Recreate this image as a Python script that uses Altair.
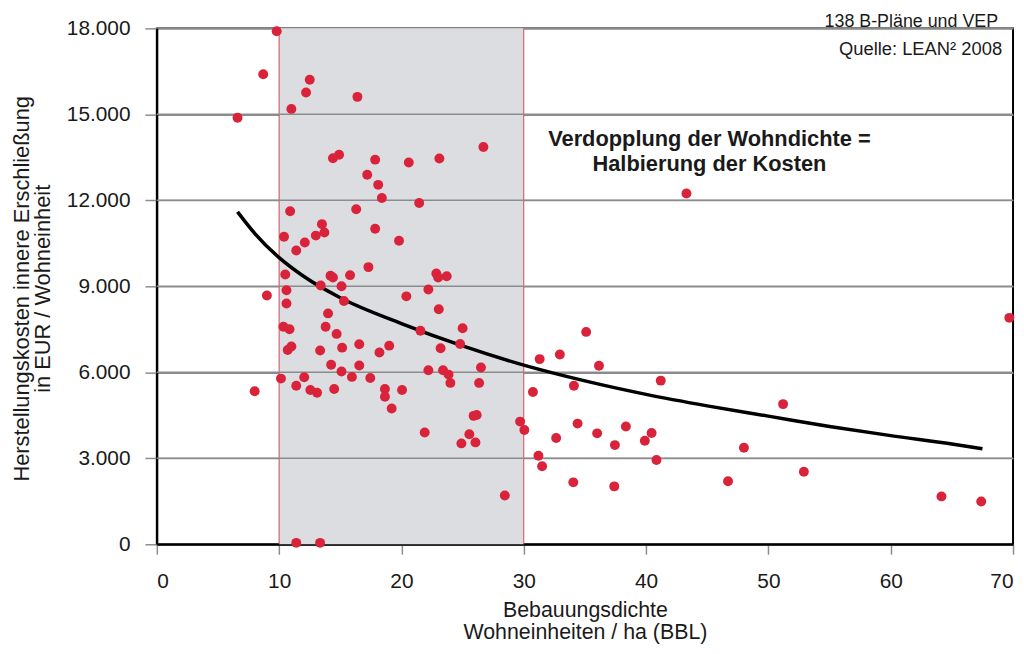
import altair as alt
import pandas as pd

# ---- data ----
density = [6.6, 8.7, 9.8, 8.0, 9.0, 12.5, 12.2, 11.0, 16.4, 14.4, 14.9, 17.85, 20.6, 23.1,
           17.2, 18.1, 18.4, 21.45, 10.9, 16.3, 13.5, 13.0, 13.7, 10.4, 12.1, 11.4, 17.85,
           19.8, 17.3, 10.5, 14.2, 14.4, 15.8, 22.85, 23.0, 23.7, 26.7, 43.3, 10.6, 13.4,
           15.1, 15.3, 10.6, 20.4, 22.2, 23.05, 14.0, 13.8, 10.35, 10.85, 14.7, 21.55, 10.7,
           11.0, 13.35, 15.15, 16.55, 18.2, 19.0, 23.2, 14.25, 16.55, 15.1, 15.95, 17.45,
           22.2, 23.4, 23.85, 24.0, 10.15, 12.05, 11.4, 12.55, 13.1, 14.5, 18.65, 18.65,
           20.05, 19.2, 21.9, 11.4, 13.35, 25.0, 24.8, 26.5, 26.35, 30.75, 31.3, 32.95,
           35.1, 36.15, 34.1, 41.2, 25.9, 26.15, 25.55, 24.9, 26.05, 29.7, 30.05, 34.4,
           32.65, 36.0, 37.45, 38.35, 39.9, 40.45, 31.2, 31.5, 40.85, 34.05, 37.4, 28.45,
           46.7, 69.7, 51.2, 48.0, 52.9, 64.15, 67.4]
cost = [14880, 16400, 17900, 5340, 8680, 16210, 15760, 15190, 15610, 13470, 13590, 13420,
        13320, 13460, 12890, 12540, 12080, 11910, 11620, 11690, 11170, 10770, 10880, 10730,
        10530, 10250, 11010, 10590, 9670, 9415, 9370, 9310, 9390, 9450, 9310, 9350, 13860,
        12240, 8860, 9030, 9000, 8490, 8400, 8650, 8890, 8200, 8055, 7590, 7590, 7500, 7340,
        7450, 6780, 6900, 6760, 6860, 6980, 6690, 6930, 6840, 6265, 6240, 6030, 5840, 5800,
        6070, 6070, 5920, 5630, 5780, 5830, 5530, 5380, 5285, 5420, 5420, 5150, 5380, 4740,
        3900, 50, 50, 7535, 6990, 6170, 5630, 5310, 6460, 6620, 7410, 6230, 5530, 5710,
        4480, 4510, 3840, 3520, 3555, 4280, 3990, 4210, 3710, 3870, 3460, 4110, 3610, 3880,
        3090, 2720, 2940, 2160, 2020, 1700, 2200, 7900, 4890, 3370, 2530, 1670, 1490]

trend_x = [6.6, 8, 10, 12, 15, 20, 25, 30, 35, 40, 45, 50, 55, 60, 65, 67.5]
trend_y = [11600, 10850, 10000, 9350, 8600, 7700, 6920, 6250, 5700, 5230, 4830, 4470,
           4110, 3790, 3500, 3330]

band_start = [10]
band_end = [30]
band_edges = [10, 30]
grid_values = [3000, 6000, 9000, 12000, 15000]
x_ticks = [0, 10, 20, 30, 40, 50, 60, 70]
y_ticks = [0, 3000, 6000, 9000, 12000, 15000, 18000]

y_title = ["Herstellungskosten innere  Erschließung", "in EUR / Wohneinheit"]
x_title = ["Bebauungsdichte", "Wohneinheiten / ha (BBL)"]
top_note = "138 B-Pläne und VEP"
source_note = "Quelle: LEAN² 2008"
annotation = ["Verdopplung der Wohndichte =", "Halbierung der Kosten"]

FONT = "Liberation Sans, Arial, Helvetica, sans-serif"
W, H = 863, 520
GRID = "#8c8c8c"

pts = pd.DataFrame({"x": density, "y": cost})
trend = pd.DataFrame({"x": trend_x, "y": trend_y})
band = pd.DataFrame({"x": band_start, "x2": band_end, "y": [0], "y2": [18000]})
edges = pd.DataFrame({"ex": band_edges, "ey": [0, 0], "ey2": [18000, 18000]})
grid = pd.DataFrame({"gy": grid_values,
                     "gx": [0] * len(grid_values),
                     "gx2": [70] * len(grid_values)})

xscale = alt.Scale(domain=[0, 70], nice=False, zero=False)
yscale = alt.Scale(domain=[0, 18000], nice=False)

xaxis = alt.Axis(values=x_ticks, title=x_title, grid=False, domainColor="black",
                 domainWidth=2, tickColor=GRID, tickWidth=1.5, tickSize=10,
                 labelFont=FONT, labelFontSize=21, labelColor="#1a1a1a", labelPadding=17,
                 labelFlush=True,
                 titleFont=FONT, titleFontSize=21.5, titleFontWeight="normal",
                 titleColor="#1a1a1a", titleY=73, titleBaseline="alphabetic",
                 titleLineHeight=22)
yaxis = alt.Axis(values=y_ticks, title=y_title, grid=True, gridColor=GRID,
                 gridWidth=1.5, domainColor="black",
                 domainWidth=2, tickColor=GRID, tickWidth=1.5, tickSize=12,
                 labelFont=FONT, labelFontSize=21, labelColor="#1a1a1a", labelPadding=15,
                 labelExpr="replace(format(datum.value, ','), ',', '.')",
                 titleFont=FONT, titleFontSize=22, titleFontWeight="normal",
                 titleColor="#1a1a1a", titleAngle=270, titleX=-129, titleY=262,
                 titleAlign="center", titleBaseline="alphabetic", titleLineHeight=21)

band_layer = alt.Chart(band).mark_rect(color="#dcdde1").encode(
    x=alt.X("x:Q", scale=xscale, axis=xaxis), x2="x2:Q",
    y=alt.Y("y:Q", scale=yscale, axis=yaxis), y2="y2:Q")

edge_layer = alt.Chart(edges).mark_rule(color="#cf4a5a", strokeWidth=1).encode(
    x=alt.X("ex:Q", scale=xscale), y=alt.Y("ey:Q", scale=yscale), y2="ey2:Q")

grid_layer = alt.Chart(grid).mark_rule(color=GRID, strokeWidth=1.5).encode(
    y=alt.Y("gy:Q", scale=yscale), x=alt.X("gx:Q", scale=xscale), x2="gx2:Q")

trend_layer = alt.Chart(trend).mark_line(color="black", strokeWidth=3.5,
                                         interpolate="monotone").encode(
    x=alt.X("x:Q", scale=xscale), y=alt.Y("y:Q", scale=yscale))

pt_layer = alt.Chart(pts).mark_circle(color="#d9233b", opacity=1, size=100).encode(
    x=alt.X("x:Q", scale=xscale), y=alt.Y("y:Q", scale=yscale))

top_text = alt.Chart(pd.DataFrame({"t": [top_note]})).mark_text(
    font=FONT, fontSize=18, color="#1a1a1a", align="right", baseline="alphabetic"
).encode(text="t:N", x=alt.value(848), y=alt.value(-1.5))

src_text = alt.Chart(pd.DataFrame({"t": [source_note]})).mark_text(
    font=FONT, fontSize=18.5, color="#1a1a1a", align="right", baseline="alphabetic"
).encode(text="t:N", x=alt.value(852), y=alt.value(27))

ann_text = alt.Chart(pd.DataFrame({"t": ["\n".join(annotation)]})).mark_text(
    font=FONT, fontSize=22, fontWeight="bold", color="#1a1a1a", align="center",
    baseline="alphabetic", lineBreak="\n", lineHeight=25
).encode(text="t:N", x=alt.value(557), y=alt.value(119))

chart = alt.layer(band_layer, edge_layer, grid_layer, trend_layer, pt_layer,
                  top_text, src_text, ann_text).properties(
    width=W, height=H, autosize="none",
    padding={"left": 150, "top": 18, "right": 3, "bottom": 100},
    background="white",
).configure_view(stroke="black", strokeWidth=2)

chart.save("out.html", embed_options={"renderer": "svg", "actions": False})
